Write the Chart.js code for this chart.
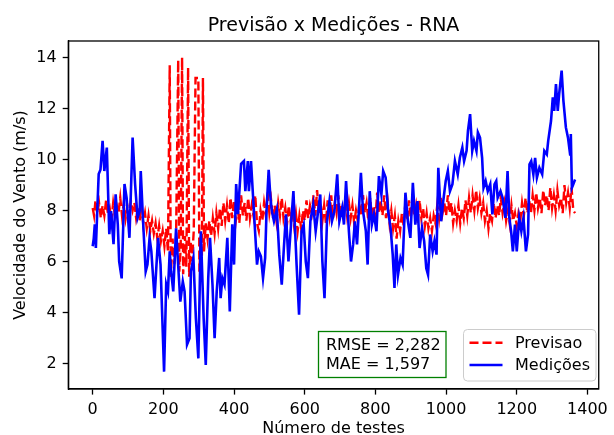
<!DOCTYPE html>
<html>
<head>
<meta charset="utf-8">
<script src="https://cdn.jsdelivr.net/npm/chart.js@4.4.1/dist/chart.umd.min.js"></script>
<style>
  body { margin: 0; background: #fff; }
  canvas { display: block; }
</style>
</head>
<body>
<canvas id="grafico" width="614" height="435"></canvas>
<script>
// textos
const titulo = 'Previsão x Medições - RNA';
const rotuloX = 'Número de testes';
const rotuloY = 'Velocidade do Vento (m/s)';
const metricas = ['RMSE = 2,282', 'MAE = 1,597'];
const nomesSeries = ['Previsao', 'Medições'];

// ticks
const xTicks = [0, 200, 400, 600, 800, 1000, 1200, 1400];
const yTicks = [2, 4, 6, 8, 10, 12, 14];

// medicoes (linha azul) - numero do teste e valor lido
const testesMed = [
  0,3,6,9,13,17,22,28,33,40,
  47,52,59,65,71,75,82,90,96,104,
  113,120,127,133,136,143,150,155,161,166,
  175,185,192,202,208,213,218,222,228,236,
  243,248,255,260,267,274,278,285,292,299,
  306,314,320,327,332,339,345,351,358,362,
  367,373,381,388,395,400,406,411,420,428,
  432,439,442,448,454,460,465,470,476,482,
  488,492,498,503,507,513,521,528,535,541,
  547,554,560,568,577,584,591,597,603,609,
  616,624,631,638,644,650,656,663,670,677,
  684,692,698,706,711,717,725,731,737,742,
  748,759,765,773,778,784,790,796,803,810,
  817,822,829,836,843,849,854,859,864,871,
  877,885,892,899,906,913,919,925,932,938,
  944,949,955,962,967,973,978,986,992,999,
  1005,1011,1018,1025,1033,1039,1046,1051,1058,1062,
  1068,1074,1079,1086,1090,1096,1102,1106,1112,1118,
  1125,1131,1137,1142,1146,1154,1160,1168,1174,1179,
  1184,1189,1195,1200,1207,1213,1219,1226,1232,1236,
  1241,1247,1252,1257,1264,1272,1278,1285,1289,1297,
  1302,1306,1311,1316,1320,1327,1332,1339,1345,1351,
  1353,1356,1360,1365
];
const medicoes = [
  6.6,6.9,7.46,6.53,8.0,9.43,9.6,10.73,9.55,10.47,
  7.07,7.98,6.68,8.64,7.46,6.0,5.34,9.04,8.5,6.93,
  10.86,9.04,7.71,7.98,9.55,7.46,5.61,5.88,6.93,6.4,
  4.56,6.93,5.88,1.68,5.1,4.83,6.4,5.6,4.83,7.3,
  5.6,4.43,5.22,4.83,2.74,2.99,5.61,6.14,3.78,2.2,
  7.19,3.78,1.94,5.35,6.93,5.1,2.99,4.83,6.14,4.56,
  5.35,5.1,6.93,4.04,7.46,5.88,9.04,7.86,9.83,9.94,
  8.76,9.94,8.76,9.94,8.5,7.07,5.88,6.4,6.2,5.35,
  6.14,8.0,9.6,8.5,7.98,7.58,8.04,6.27,5.09,6.53,
  7.85,6.0,7.19,8.76,5.88,3.91,7.19,7.45,6.0,5.35,
  7.58,8.24,7.19,7.98,8.63,6.0,4.56,7.58,8.37,7.58,
  7.98,9.42,7.58,8.11,7.45,9.16,7.19,6.0,6.67,7.58,
  6.67,9.48,7.98,7.19,5.88,8.76,7.45,7.85,7.19,9.35,
  8.63,9.55,9.29,7.98,7.32,6.27,4.96,6.67,5.48,6.14,
  5.88,8.7,7.58,6.93,9.09,7.45,8.37,6.53,7.32,6.8,
  5.74,5.48,7.06,6.4,6.8,6.27,9.68,7.58,8.37,9.16,
  9.55,8.76,9.03,9.94,9.42,10.07,10.47,9.94,10.34,11.13,
  11.78,10.34,10.73,10.34,11.06,10.86,10.07,8.89,9.16,8.76,
  9.03,7.85,9.03,9.16,8.5,8.76,8.5,7.71,9.55,7.71,
  7.19,6.4,7.45,6.4,7.71,7.19,7.71,6.4,7.06,9.81,
  9.94,9.42,10.07,9.29,9.68,9.42,10.34,10.2,10.73,11.52,
  12.44,11.91,12.96,11.91,12.57,13.49,12.31,11.26,10.86,10.2,
  11.0,8.89,9.03,9.22
];

// previsao (linha vermelha tracejada)
const testesPrev = [
  0,4,8,13,18,23,28,33,38,43,
  48,53,58,63,68,73,78,83,88,93,
  98,103,108,113,118,123,128,133,138,143,
  148,153,158,163,168,173,178,183,188,193,
  198,203,208,213,218,221,226,231,236,242,
  245,249,253,256,261,265,270,273,277,281,
  286,291,299,302,306,309,312,315,320,325,
  330,335,340,345,350,355,360,365,370,375,
  380,385,390,395,400,405,410,415,420,425,
  430,435,440,445,450,455,460,465,470,475,
  480,485,490,495,500,505,510,515,520,525,
  530,535,540,545,550,555,560,565,570,575,
  580,585,590,595,600,605,610,615,620,625,
  630,635,640,645,650,655,660,665,670,675,
  680,685,690,695,700,705,710,715,720,725,
  730,735,740,745,750,755,760,765,770,775,
  780,785,790,795,800,805,810,815,820,825,
  830,835,840,845,850,855,860,865,870,875,
  880,885,890,895,900,905,910,915,920,925,
  930,935,940,945,950,955,960,965,970,975,
  980,985,990,995,1000,1005,1010,1015,1020,1025,
  1030,1035,1040,1045,1050,1055,1060,1065,1070,1075,
  1080,1085,1090,1095,1100,1105,1110,1115,1120,1125,
  1130,1135,1140,1145,1150,1155,1160,1165,1170,1175,
  1180,1185,1190,1195,1200,1205,1210,1215,1220,1225,
  1230,1235,1240,1245,1250,1255,1260,1265,1270,1275,
  1280,1285,1290,1295,1300,1305,1310,1315,1320,1325,
  1330,1335,1340,1345,1350,1355,1360,1365
];
const previsao = [
  8.1,7.8,8.4,7.9,8.3,7.7,8.2,7.8,8.4,7.9,
  8.1,7.6,8.3,7.8,8.2,7.9,8.5,7.8,8.3,7.7,
  8.2,7.8,8.4,8.0,8.3,7.7,8.1,7.6,8.2,7.5,
  7.9,7.3,7.8,7.2,7.6,7.1,7.5,6.9,7.4,6.8,
  7.2,6.6,7.3,6.4,13.7,5.4,6.9,5.9,7.0,13.9,
  5.6,6.5,14.0,5.5,7.0,5.8,13.6,5.4,6.8,6.0,
  7.2,13.2,13.2,5.6,7.0,6.2,13.2,6.4,7.5,6.9,
  7.6,7.0,7.7,7.1,7.9,7.3,8.1,7.4,8.3,7.6,
  8.2,7.5,8.5,7.7,8.4,7.6,8.2,7.5,8.6,7.8,
  8.3,7.6,8.5,7.7,8.2,7.8,8.6,7.5,7.2,8.0,
  7.6,8.3,7.8,8.7,7.9,8.4,7.7,8.2,7.6,8.3,
  7.8,8.5,7.7,8.1,7.5,8.2,7.6,8.0,7.4,7.9,
  7.2,7.8,7.3,8.0,7.6,8.4,7.7,8.2,7.9,8.6,
  7.8,8.8,7.9,8.3,7.6,8.2,7.5,8.4,7.8,8.6,
  7.7,8.3,7.9,8.6,7.8,8.2,7.6,8.5,7.8,8.3,
  7.7,8.2,7.5,8.0,7.6,8.3,7.8,8.6,7.9,8.3,
  7.6,8.5,7.8,8.2,7.6,8.7,7.9,8.4,7.8,8.6,
  7.7,8.3,7.5,8.0,7.3,7.8,6.9,7.6,7.2,7.9,
  7.4,8.3,7.6,8.4,7.7,8.5,7.8,8.2,7.5,8.4,
  7.7,8.1,7.4,7.9,7.3,7.7,7.2,7.8,7.5,8.2,
  7.7,8.5,7.9,8.3,7.8,8.6,7.9,8.3,7.5,8.0,
  7.6,8.2,7.5,8.1,7.7,8.4,7.8,8.5,7.9,8.6,
  8.0,8.8,8.1,8.5,7.9,8.3,7.6,8.0,7.3,7.9,
  7.6,8.3,7.7,8.2,7.8,8.5,7.9,8.3,7.6,8.0,
  7.5,8.2,7.6,7.9,7.4,7.9,7.6,8.3,7.8,8.5,
  7.9,8.4,7.9,8.6,8.0,8.7,8.1,8.5,7.9,8.8,
  8.2,8.6,8.0,8.9,8.1,8.6,8.0,8.8,8.2,8.5,
  7.9,9.0,8.3,8.7,8.1,8.9,8.0,7.9
];

const fonte = '"DejaVu Sans", sans-serif';

function montaPontos(xs, ys) {
  return xs.map((x, i) => ({ x: x, y: ys[i] }));
}

// moldura, titulo, rotulos, caixa de metricas e legenda
const extras = {
  id: 'extras',
  afterDraw(chart) {
    const ctx = chart.ctx;
    const a = chart.chartArea;
    const meio = (a.left + a.right) / 2;
    ctx.save();

    ctx.strokeStyle = '#000';
    ctx.lineWidth = 1.3;
    ctx.strokeRect(a.left, a.top, a.right - a.left, a.bottom - a.top);

    ctx.fillStyle = '#000';
    ctx.textAlign = 'center';
    ctx.textBaseline = 'alphabetic';
    ctx.font = '19px ' + fonte;
    ctx.fillText(titulo, meio, a.top - 10);

    ctx.font = '16px ' + fonte;
    ctx.fillText(rotuloX, meio, a.bottom + 44);

    ctx.save();
    ctx.translate(25, (a.top + a.bottom) / 2);
    ctx.rotate(-Math.PI / 2);
    ctx.fillText(rotuloY, 0, 0);
    ctx.restore();

    // caixa RMSE / MAE
    ctx.fillStyle = '#fff';
    ctx.fillRect(318.5, 331.5, 127.5, 46);
    ctx.strokeStyle = '#008000';
    ctx.lineWidth = 1.3;
    ctx.strokeRect(318.5, 331.5, 127.5, 46);
    ctx.fillStyle = '#000';
    ctx.textAlign = 'left';
    ctx.fillText(metricas[0], 326, 350);
    ctx.fillText(metricas[1], 326, 368.5);

    // legenda
    ctx.beginPath();
    ctx.roundRect(463.5, 329.5, 132.5, 51.5, 4);
    ctx.fillStyle = 'rgba(255,255,255,0.8)';
    ctx.fill();
    ctx.strokeStyle = '#cccccc';
    ctx.lineWidth = 1;
    ctx.stroke();

    const ds = chart.data.datasets;
    const ys = [342.7, 365];
    ds.forEach((d, i) => {
      ctx.beginPath();
      ctx.strokeStyle = d.borderColor;
      ctx.lineWidth = d.borderWidth;
      ctx.setLineDash(d.borderDash || []);
      ctx.moveTo(469.5, ys[i]);
      ctx.lineTo(502.5, ys[i]);
      ctx.stroke();
      ctx.setLineDash([]);
      ctx.fillStyle = '#000';
      ctx.fillText(d.label, 515, ys[i] + 5.3);
    });

    ctx.restore();
  }
};

const ctx = document.getElementById('grafico');
new Chart(ctx, {
  type: 'line',
  data: {
    datasets: [
      {
        label: nomesSeries[0],
        data: montaPontos(testesPrev, previsao),
        borderColor: '#ff0000',
        borderWidth: 2.4,
        borderDash: [9, 4],
        pointRadius: 0,
        tension: 0,
        fill: false,
        order: 1
      },
      {
        label: nomesSeries[1],
        data: montaPontos(testesMed, medicoes),
        borderColor: '#0000ff',
        borderWidth: 2.6,
        pointRadius: 0,
        tension: 0,
        fill: false,
        order: 0
      }
    ]
  },
  options: {
    responsive: false,
    animation: false,
    devicePixelRatio: 1,
    layout: { padding: { top: 41, right: 10, left: 0, bottom: 0 } },
    plugins: {
      legend: { display: false },
      title: { display: false },
      tooltip: { enabled: false }
    },
    scales: {
      x: {
        type: 'linear',
        min: -69,
        max: 1432,
        afterBuildTicks: s => { s.ticks = xTicks.map(v => ({ value: v })); },
        afterFit: s => { s.height = 46; },
        grid: { drawOnChartArea: false, tickLength: 5.6, tickWidth: 1.3, tickColor: '#000' },
        border: { display: true, color: '#000', width: 1.3 },
        ticks: {
          color: '#000', font: { family: fonte, size: 16 }, padding: 6,
          maxRotation: 0, autoSkip: false,
          callback: v => String(v)
        }
      },
      y: {
        type: 'linear',
        min: 1.0,
        max: 14.65,
        afterBuildTicks: s => { s.ticks = yTicks.map(v => ({ value: v })); },
        afterFit: s => { s.width = 68.3; },
        grid: { drawOnChartArea: false, tickLength: 5.6, tickWidth: 1.3, tickColor: '#000' },
        border: { display: true, color: '#000', width: 1.3 },
        ticks: {
          color: '#000', font: { family: fonte, size: 16 }, padding: 6, autoSkip: false,
          callback: v => String(v)
        }
      }
    }
  },
  plugins: [extras]
});
</script>
</body>
</html>
